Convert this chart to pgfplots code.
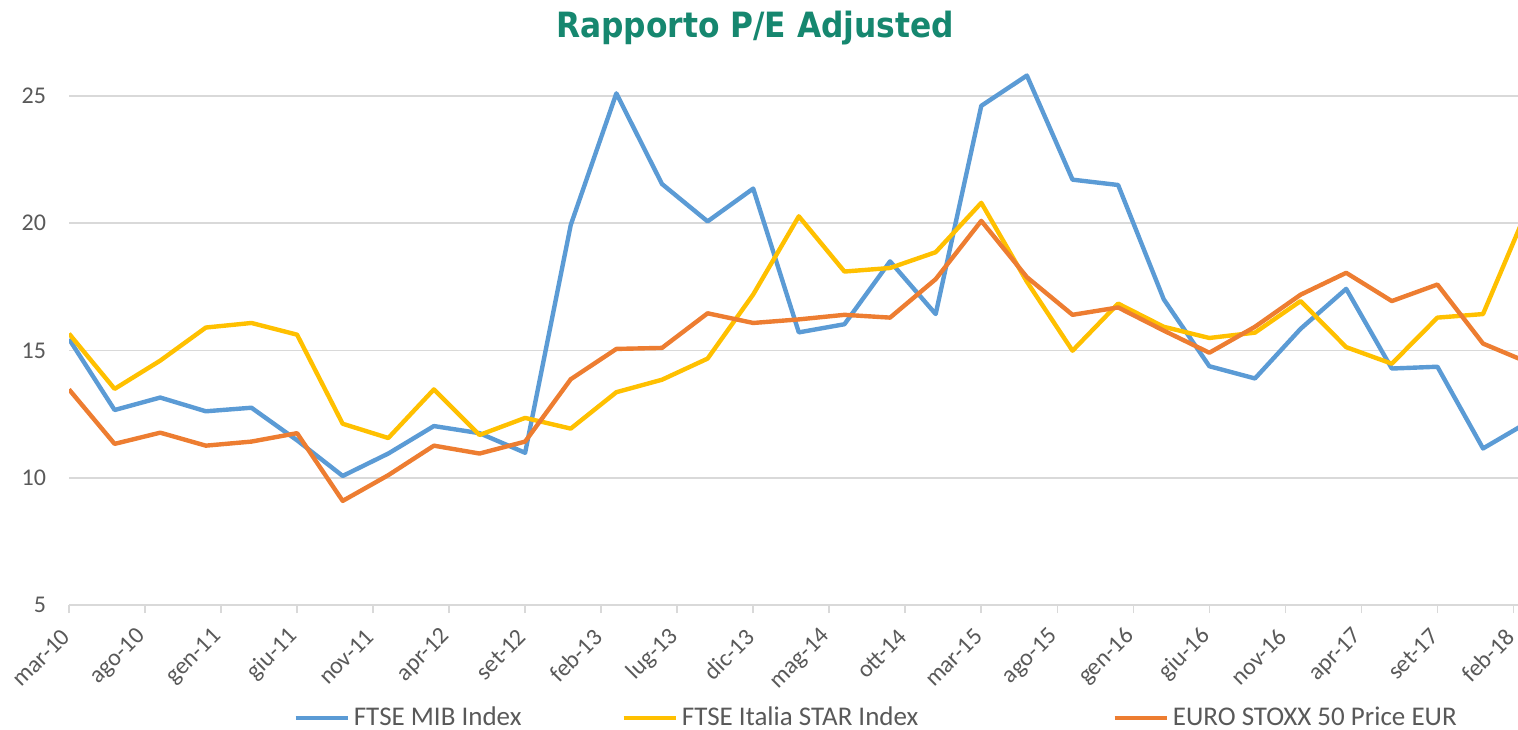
\documentclass[border=0pt]{standalone}
\usepackage{fontspec}
\setmainfont{Carlito}
\newfontfamily\titlefont{DejaVu Sans Condensed}
\usepackage{pgfplots}
\usepackage{pgfplotstable}
\pgfplotsset{compat=1.18}

\definecolor{cblue}{HTML}{5B9BD5}
\definecolor{cyellow}{HTML}{FFC000}
\definecolor{corange}{HTML}{ED7D31}
\definecolor{titlecol}{HTML}{16876F}
\definecolor{gridgray}{HTML}{D9D9D9}
\definecolor{labelgray}{HTML}{595959}

% quarterly P/E, month index from mar-10
\pgfplotstableread{
m  mib   star  euro
0  15.45 15.66 13.47
3  12.66 13.49 11.33
6  13.15 14.60 11.77
9  12.61 15.90 11.26
12 12.75 16.08 11.42
15 11.47 15.62 11.75
18 10.07 12.12 9.09
21 10.95 11.56 10.10
24 12.03 13.47 11.26
27 11.75 11.68 10.95
30 10.98 12.35 11.42
33 19.93 11.93 13.87
36 25.10 13.36 15.06
39 21.54 13.85 15.10
42 20.07 14.68 16.46
45 21.36 17.20 16.08
48 15.71 20.27 16.22
51 16.03 18.10 16.40
54 18.50 18.24 16.29
57 16.43 18.86 17.80
60 24.61 20.80 20.09
63 25.80 17.70 17.88
66 21.71 14.99 16.40
69 21.50 16.84 16.69
72 17.01 15.93 15.78
75 14.38 15.49 14.91
78 13.90 15.70 15.93
81 15.85 16.94 17.19
84 17.42 15.13 18.05
87 14.29 14.48 16.94
90 14.36 16.29 17.59
93 11.15 16.43 15.27
96 12.20 20.66 14.52
}\pe

\begin{document}
\begin{tikzpicture}
\useasboundingbox (0,0) rectangle (759pt,364.5pt);
\node[font=\titlefont\bfseries\fontsize{17.4}{20}\selectfont, text=titlecol] at (377.5pt,350.5pt) {Rapporto P/E Adjusted};
\begin{axis}[
  at={(34.5pt,62pt)}, anchor=south west,
  scale only axis, width=724.5pt, height=280pt,
  xmin=0, xmax=95.3, ymin=5, ymax=27,
  axis x line*=bottom, axis y line*=left,
  x axis line style={draw=gridgray, line width=0.8pt, -},
  y axis line style={draw=none, -},
  xtick={0,5,...,95},
  xticklabels={mar-10,ago-10,gen-11,giu-11,nov-11,apr-12,set-12,feb-13,lug-13,dic-13,mag-14,ott-14,mar-15,ago-15,gen-16,giu-16,nov-16,apr-17,set-17,feb-18},
  ytick={5,10,...,25},
  ymajorgrids, grid style={gridgray, line width=0.8pt},
  tick align=outside, major tick length=4pt,
  xtick style={draw=gridgray, line width=0.8pt},
  ytick style={draw=none},
  /pgf/number format/assume math mode=true,
  xticklabel style={xshift=1pt, yshift=-7.5pt, rotate=45, anchor=east,
    font=\fontsize{12}{14}\selectfont, text=labelgray},
  yticklabel style={font=\fontsize{12}{14}\selectfont, text=labelgray, xshift=-4pt},
  legend columns=3,
  legend style={at={(0.1546,-0.2018)}, anchor=west, draw=none, fill=none,
    font=\fontsize{13.5}{16}\selectfont, text=labelgray, column sep=0pt, inner sep=0pt},
  legend image code/.code={\draw[#1] (0pt,0pt) -- (26pt,0pt);},
]
\addplot[cblue, line width=2.2pt, line join=round] table[x=m, y=mib] {\pe};
\addlegendentry{FTSE MIB Index\rule{48pt}{0pt}}
\addplot[cyellow, line width=2.2pt, line join=round] table[x=m, y=star] {\pe};
\addlegendentry{FTSE Italia STAR Index\rule{95pt}{0pt}}
\addplot[corange, line width=2.2pt, line join=round] table[x=m, y=euro] {\pe};
\addlegendentry{EURO STOXX 50 Price EUR}
\end{axis}
\end{tikzpicture}
\end{document}
